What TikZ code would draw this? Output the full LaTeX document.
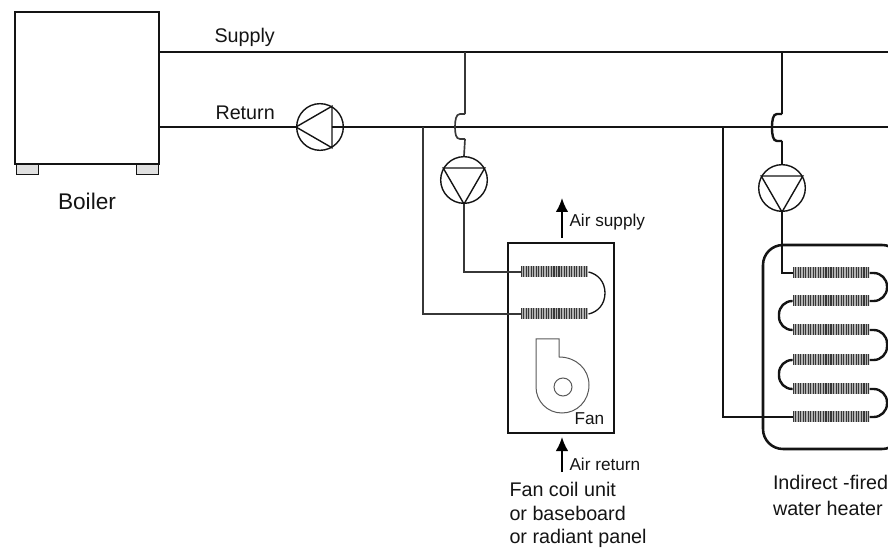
\documentclass[tikz,border=0pt]{standalone}
\usepackage{fontspec}
\setmainfont{Liberation Sans}
\usetikzlibrary{arrows.meta}

\definecolor{inkline}{HTML}{141414}
\tikzset{every picture/.style={line width=0.75pt}}
\tikzset{
  pipe/.style={draw=inkline,line width=1.8pt},
  thinpipe/.style={draw=inkline!85,line width=1.25pt},
  shell/.style={draw=inkline,line width=1.9pt,inner sep=0pt,rectangle},
  foot/.style={draw=inkline,fill=black!12,line width=0.75pt,inner sep=0pt,minimum width=16.5pt,minimum height=7.5pt},
  pump/.style={circle,draw=inkline,line width=1.05pt,inner sep=0pt,minimum size=35pt},
  coil/.style={inner sep=0pt,minimum height=8.25pt,fill=black!30,
    path picture={\foreach \i in {0,1.9,...,60}
      \draw[inkline!85,line width=0.85pt] ([xshift=\i pt]path picture bounding box.north west) -- ([xshift=\i pt]path picture bounding box.south west);}},
  airflow/.style={-{Latex[length=10.5pt,width=9.5pt]},draw=black,line width=1.5pt},
  biglabel/.style={inner sep=0pt,text=inkline,font=\fontsize{14.8}{19.5}\selectfont},
  smalllabel/.style={inner sep=0pt,text=inkline,font=\fontsize{12.9}{15}\selectfont}
}

\begin{document}
\begin{tikzpicture}[x=0.75pt,y=0.75pt,yscale=-1,xscale=1]
        \clip[use as bounding box] (0,0) rectangle (888,548);

        % boiler
        \node[shell,minimum width=108pt,minimum height=114pt] (boiler) at (87,88) {};
        \node[foot] (footl) at (27,170) {};
        \node[foot] (footr) at (147,170) {};
        \node[biglabel,font=\fontsize{17}{19.5}\selectfont] (boilertext) at (87,201) {Boiler};

        % mains
        \coordinate (supplyend) at (888,52);
        \coordinate (returnend) at (888,127);
        \node[pump] (pumpr) at (320,127) {};
        \draw[pipe] (boiler.east |- supplyend) -- (supplyend);
        \draw[pipe] (boiler.east |- returnend) -- (pumpr.west);
        \draw[pipe] (331.5,127) -- (returnend);
        \draw[draw=inkline,line width=1.05pt] (pumpr.west) -- (pumpr.60) -- (pumpr.-60) -- cycle;
        \node[biglabel,anchor=base west] (supplytext) at (214,43) {Supply};
        \node[biglabel,anchor=base west] (returntext) at (215,120) {Return};

        % fan coil branch
        \node[shell,minimum width=79.5pt,minimum height=142.5pt] (fanbox) at (561,338) {};
        \node[pump] (pumpa) at (464,180) {};
        \draw[draw=inkline,line width=1.05pt] (pumpa.south) -- (pumpa.150) -- (pumpa.30) -- cycle;
        \node[coil,minimum width=50.25pt] (coila) at (554.5,272) {};
        \node[coil,minimum width=50.25pt] (coilb) at (554.5,314) {};
        \coordinate (hopain) at (465,114);
        \coordinate (hopaout) at (465,139);
        \draw[thinpipe] (hopain |- supplyend) -- (hopain);
        \draw[thinpipe] (hopain) -- (460,114) .. controls (456,114) and (455,120) .. (455,127) .. controls (455,134) and (456,139) .. (460,139) -- (hopaout);
        \draw[thinpipe] (hopaout) -- (pumpa.north);
        \draw[thinpipe] (pumpa.south) |- (coila.west);
        \draw[thinpipe] (423,127) |- (coilb.west);
        \draw[draw=inkline,line width=1pt] (coila.east) .. controls (598,274) and (605,282) .. (605,293) .. controls (605,304) and (598,312) .. (coilb.east);

        % fan
        \draw[draw=black!65,line width=0.75pt] (536,339) -- (559,339) -- (559,357) .. controls (576,357) and (589,369) .. (589,385) .. controls (589,401) and (577,413) .. (562,413) .. controls (547,413) and (536,401) .. (536,387) -- cycle;
        \draw[draw=black!65,line width=0.75pt] (563,387) circle[radius=9];
        \node[smalllabel,anchor=base west] (fantext) at (574,425) {Fan};

        \coordinate (airouttail) at (562,238);
        \coordinate (airouttip) at (562,198);
        \coordinate (airintail) at (562,472);
        \coordinate (airintip) at (562,437);
        \draw[airflow] (airouttail) -- (airouttip);
        \draw[airflow] (airintail) -- (airintip);
        \node[smalllabel,anchor=base west] (airouttext) at (569,227) {Air supply};
        \node[smalllabel,anchor=base west] (airintext) at (569,470) {Air return};
        \node[biglabel,anchor=base west] (fancoila) at (509,496) {Fan coil unit};
        \node[biglabel,anchor=base west] (fancoilb) at (509,520) {or baseboard};
        \node[biglabel,anchor=base west] (fancoilc) at (509,543.5) {or radiant panel};

        % water heater branch
        \node[shell,minimum width=104.25pt,minimum height=153pt,rounded corners=15pt] (tank) at (832.5,347) {};
        \node[pump] (pumpb) at (782,188) {};
        \draw[draw=inkline,line width=1.05pt] (pumpb.south) -- (pumpb.150) -- (pumpb.30) -- cycle;
        \foreach \name/\ypos in {ca/273,cb/301,cc/330,cd/360,ce/389,cf/417}
            \node[coil,minimum width=57pt] (\name) at (831,\ypos) {};
        \coordinate (hopbin) at (782,114);
        \coordinate (hopbout) at (782,141);
        \draw[pipe] (hopbin |- supplyend) -- (hopbin);
        \draw[pipe] (hopbin) -- (777,114) .. controls (773,114) and (772,120) .. (772,127.5) .. controls (772,135) and (773,141) .. (777,141) -- (hopbout);
        \draw[pipe] (hopbout) -- (pumpb.north);
        \draw[pipe] (pumpb.south) |- (ca.west);
        \draw[pipe] (723,127) |- (cf.west);
        \draw[pipe,rounded corners=10pt] (ca.east) -- (887,273) -- (887,301) -- (cb.east);
        \draw[pipe,rounded corners=10pt] (cb.west) -- (779,301) -- (779,330) -- (cc.west);
        \draw[pipe,rounded corners=10pt] (cc.east) -- (887,330) -- (887,360) -- (cd.east);
        \draw[pipe,rounded corners=10pt] (cd.west) -- (779,360) -- (779,389) -- (ce.west);
        \draw[pipe,rounded corners=10pt] (ce.east) -- (887,389) -- (887,417) -- (cf.east);
        \node[biglabel,anchor=base west] (heatera) at (772.5,489) {Indirect -fired};
        \node[biglabel,anchor=base west] (heaterb) at (772.5,515) {water heater};
    \end{tikzpicture}
\end{document}
